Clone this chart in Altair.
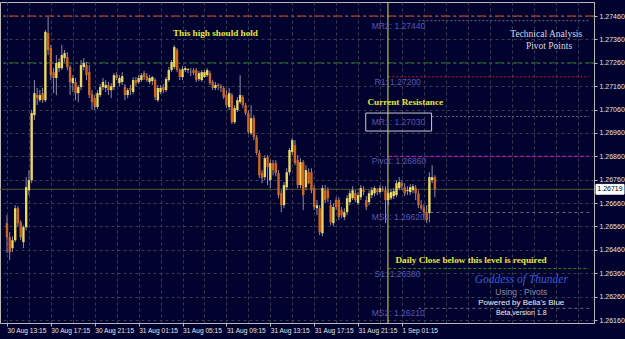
import json
import altair as alt
import pandas as pd

# ---------------- data (EURUSD-like 15 min candles) ----------------
opens = [1.26574, 1.26514, 1.26467, 1.26501, 1.26638, 1.26578, 1.26493, 1.26557, 1.26715, 1.26758,
         1.27036, 1.27122, 1.27100, 1.27130, 1.27100, 1.27387, 1.27323, 1.27220, 1.27195, 1.27237,
         1.27237, 1.27280, 1.27285, 1.27242, 1.27173, 1.27178, 1.27130, 1.27156, 1.27242, 1.27250,
         1.27220, 1.27126, 1.27109, 1.27071, 1.27122, 1.27156, 1.27152, 1.27165, 1.27143, 1.27156,
         1.27207, 1.27173, 1.27178, 1.27156, 1.27122, 1.27152, 1.27135, 1.27186, 1.27178, 1.27186,
         1.27216, 1.27203, 1.27178, 1.27182, 1.27186, 1.27100, 1.27135, 1.27156, 1.27143, 1.27186,
         1.27229, 1.27242, 1.27315, 1.27229, 1.27199, 1.27229, 1.27229, 1.27220, 1.27229, 1.27229,
         1.27190, 1.27186, 1.27199, 1.27207, 1.27216, 1.27178, 1.27152, 1.27165, 1.27160, 1.27152,
         1.27122, 1.27071, 1.27122, 1.27006, 1.27058, 1.27092, 1.27113, 1.27079, 1.27045, 1.26959,
         1.27023, 1.26942, 1.26874, 1.26788, 1.26771, 1.26857, 1.26758, 1.26831, 1.26831, 1.26788,
         1.26702, 1.26651, 1.26728, 1.26792, 1.26878, 1.26908, 1.26844, 1.26737, 1.26835, 1.26728,
         1.26792, 1.26792, 1.26724, 1.26638, 1.26638, 1.26531, 1.26715, 1.26715, 1.26651, 1.26574,
         1.26673, 1.26673, 1.26630, 1.26600, 1.26621, 1.26664, 1.26681, 1.26702, 1.26660, 1.26685,
         1.26715, 1.26673, 1.26664, 1.26694, 1.26702, 1.26715, 1.26707, 1.26720, 1.26715, 1.26673,
         1.26681, 1.26690, 1.26694, 1.26724, 1.26745, 1.26728, 1.26711, 1.26707, 1.26715, 1.26724,
         1.26702, 1.26651, 1.26638, 1.26621, 1.26617, 1.26758, 1.26771]
highs = [1.26608, 1.26536, 1.26518, 1.26651, 1.26647, 1.26587, 1.26565, 1.26771, 1.26801, 1.27058,
         1.27186, 1.27152, 1.27143, 1.27152, 1.27400, 1.27456, 1.27336, 1.27237, 1.27293, 1.27280,
         1.27336, 1.27315, 1.27306, 1.27250, 1.27207, 1.27195, 1.27165, 1.27272, 1.27280, 1.27263,
         1.27250, 1.27143, 1.27122, 1.27143, 1.27169, 1.27195, 1.27186, 1.27178, 1.27173, 1.27216,
         1.27220, 1.27207, 1.27220, 1.27169, 1.27152, 1.27165, 1.27199, 1.27199, 1.27207, 1.27216,
         1.27225, 1.27216, 1.27207, 1.27203, 1.27195, 1.27165, 1.27165, 1.27169, 1.27199, 1.27242,
         1.27272, 1.27336, 1.27323, 1.27237, 1.27246, 1.27246, 1.27237, 1.27237, 1.27237, 1.27237,
         1.27225, 1.27229, 1.27229, 1.27237, 1.27225, 1.27186, 1.27178, 1.27173, 1.27169, 1.27160,
         1.27143, 1.27152, 1.27130, 1.27079, 1.27113, 1.27207, 1.27122, 1.27088, 1.27058, 1.27079,
         1.27036, 1.26951, 1.26887, 1.26801, 1.26865, 1.26865, 1.26844, 1.26844, 1.26844, 1.26801,
         1.26715, 1.26750, 1.26809, 1.26895, 1.26938, 1.26929, 1.26865, 1.26852, 1.26844, 1.26822,
         1.26809, 1.26809, 1.26737, 1.26673, 1.26651, 1.26737, 1.26737, 1.26728, 1.26673, 1.26660,
         1.26685, 1.26685, 1.26643, 1.26638, 1.26694, 1.26715, 1.26732, 1.26715, 1.26707, 1.26737,
         1.26732, 1.26690, 1.26715, 1.26728, 1.26732, 1.26724, 1.26737, 1.26732, 1.26732, 1.26715,
         1.26720, 1.26724, 1.26758, 1.26771, 1.26758, 1.26745, 1.26732, 1.26741, 1.26741, 1.26737,
         1.26715, 1.26673, 1.26655, 1.26651, 1.26792, 1.26822, 1.26779]
lows = [1.26446, 1.26416, 1.26450, 1.26493, 1.26561, 1.26501, 1.26467, 1.26544, 1.26694, 1.26745,
        1.27015, 1.27079, 1.27092, 1.27088, 1.27092, 1.27293, 1.27186, 1.27130, 1.27122, 1.27220,
        1.27229, 1.27263, 1.27229, 1.27122, 1.27135, 1.27100, 1.27092, 1.27143, 1.27229, 1.27186,
        1.27109, 1.27058, 1.27058, 1.27062, 1.27113, 1.27143, 1.27135, 1.27122, 1.27109, 1.27143,
        1.27186, 1.27160, 1.27165, 1.27100, 1.27109, 1.27122, 1.27126, 1.27160, 1.27169, 1.27178,
        1.27186, 1.27178, 1.27169, 1.27165, 1.27100, 1.27092, 1.27126, 1.27130, 1.27135, 1.27178,
        1.27220, 1.27233, 1.27220, 1.27186, 1.27186, 1.27220, 1.27216, 1.27203, 1.27207, 1.27178,
        1.27182, 1.27178, 1.27195, 1.27199, 1.27165, 1.27143, 1.27143, 1.27143, 1.27135, 1.27105,
        1.27066, 1.27058, 1.26998, 1.26998, 1.27049, 1.27083, 1.27066, 1.27036, 1.26955, 1.26951,
        1.26929, 1.26865, 1.26767, 1.26745, 1.26758, 1.26737, 1.26724, 1.26779, 1.26775, 1.26681,
        1.26621, 1.26638, 1.26715, 1.26779, 1.26865, 1.26822, 1.26724, 1.26724, 1.26630, 1.26715,
        1.26741, 1.26702, 1.26630, 1.26608, 1.26523, 1.26518, 1.26660, 1.26664, 1.26565, 1.26561,
        1.26630, 1.26587, 1.26595, 1.26587, 1.26608, 1.26651, 1.26673, 1.26664, 1.26651, 1.26673,
        1.26694, 1.26630, 1.26651, 1.26681, 1.26690, 1.26694, 1.26698, 1.26707, 1.26574, 1.26651,
        1.26673, 1.26677, 1.26685, 1.26715, 1.26715, 1.26690, 1.26694, 1.26694, 1.26702, 1.26673,
        1.26638, 1.26630, 1.26595, 1.26574, 1.26578, 1.26745, 1.26685]
closes = [1.26514, 1.26450, 1.26501, 1.26638, 1.26574, 1.26514, 1.26557, 1.26728, 1.26758, 1.27045,
          1.27130, 1.27109, 1.27122, 1.27100, 1.27392, 1.27315, 1.27207, 1.27195, 1.27259, 1.27263,
          1.27293, 1.27302, 1.27242, 1.27178, 1.27195, 1.27130, 1.27156, 1.27250, 1.27259, 1.27207,
          1.27122, 1.27092, 1.27071, 1.27130, 1.27156, 1.27178, 1.27165, 1.27143, 1.27160, 1.27207,
          1.27195, 1.27195, 1.27203, 1.27122, 1.27143, 1.27143, 1.27186, 1.27173, 1.27195, 1.27207,
          1.27199, 1.27186, 1.27195, 1.27199, 1.27113, 1.27152, 1.27152, 1.27143, 1.27190, 1.27229,
          1.27263, 1.27327, 1.27229, 1.27199, 1.27233, 1.27237, 1.27233, 1.27221, 1.27216, 1.27186,
          1.27216, 1.27220, 1.27220, 1.27229, 1.27173, 1.27152, 1.27165, 1.27160, 1.27152, 1.27113,
          1.27079, 1.27130, 1.27006, 1.27066, 1.27100, 1.27122, 1.27079, 1.27045, 1.26964, 1.27023,
          1.26942, 1.26874, 1.26779, 1.26767, 1.26852, 1.26814, 1.26831, 1.26801, 1.26788, 1.26694,
          1.26651, 1.26737, 1.26792, 1.26887, 1.26929, 1.26831, 1.26737, 1.26835, 1.26694, 1.26801,
          1.26745, 1.26715, 1.26643, 1.26651, 1.26536, 1.26724, 1.26673, 1.26681, 1.26578, 1.26643,
          1.26643, 1.26600, 1.26608, 1.26621, 1.26681, 1.26702, 1.26715, 1.26673, 1.26694, 1.26724,
          1.26707, 1.26643, 1.26702, 1.26715, 1.26724, 1.26707, 1.26724, 1.26715, 1.26673, 1.26702,
          1.26707, 1.26711, 1.26745, 1.26750, 1.26732, 1.26702, 1.26715, 1.26728, 1.26732, 1.26702,
          1.26651, 1.26638, 1.26621, 1.26587, 1.26771, 1.26771, 1.26719]

# x-axis labels (one every 4 hours = 16 bars), gridlines every 2 hours
tick_labels = ["30 Aug 13:15", "30 Aug 17:15", "30 Aug 21:15", "31 Aug 01:15", "31 Aug 05:15",
               "31 Aug 09:15", "31 Aug 13:15", "31 Aug 17:15", "31 Aug 21:15", "1 Sep 01:15"]
price_ticks = [1.27460, 1.27360, 1.27260, 1.27160, 1.27060, 1.26960, 1.26860,
               1.26760, 1.26660, 1.26560, 1.26460, 1.26360, 1.26260, 1.26160]

# pivot levels
level_names = ["MR2", "R1", "MR1", "Pivot", "MS1", "S1", "MS2"]
level_values = [1.27440, 1.27200, 1.27030, 1.26860, 1.26620, 1.26380, 1.26210]
level_start = [150, 139, 155, 139, 150, 139, 150]
level_label_x = [133, 134, 133, 133, 133, 134, 133]
level_colors = ["#6c6c84", "#c41c1c", "#6c6c84", "#c020c0", "#6c6c84", "#1c8a1c", "#6c6c84"]
level_dashes = [[2, 2], [2, 2], [2, 2], [4, 2], [3, 3], [3, 2], [3, 3]]

full_values = [1.27460, 1.27260]
full_colors = ["#e2441a", "#1c6e1c"]
full_dashes = [[9, 3, 3, 3], [9, 3, 3, 3]]

day_separator = [138.89]
current_price = 1.26719
resistance_box = {"i0": 130.8, "i1": 154.8, "top": 1.27045, "bottom": 1.26968}

X_DOMAIN = [-0.72, 212.19]
Y_DOMAIN = [1.261472, 1.275199]

BG = "#02022e"
GRID = "#3a3a52"
AXIS_TXT = "#e4e4e4"
FRAME = "#b8b8b8"
BULL = "#e8d860"
BEAR = "#d0661e"
WICK = "#8c8ca8"
YELLOW = "#e6e632"
LVL_TXT = "#5858b4"

# ---------------- encodings ----------------
grid_idx = list(range(0, 209, 8))
label_expr = ("(datum.value % 16 == 0 && datum.value / 16 < " + str(len(tick_labels)) + ") ? "
              + json.dumps(tick_labels) + "[datum.value / 16] : ''")

x_axis = alt.Axis(
    values=grid_idx, labelExpr=label_expr, grid=True, gridColor=GRID, gridDash=[3, 3],
    domainColor=FRAME, domainWidth=1,
    tickColor={"condition": {"test": "datum.value % 16 == 0 && datum.value <= 144", "value": FRAME},
               "value": "transparent"},
    tickSize=3, labelColor=AXIS_TXT, labelFont="Liberation Sans", labelFontSize=6.6,
    labelAlign="left", labelBaseline="top", labelPadding=1,
    labelOverlap=False, labelFlush=False, title=None)

y_axis = alt.Axis(
    orient="right", values=price_ticks, format=".5f", grid=True, gridColor=GRID, gridDash=[3, 3],
    domainColor=FRAME, domainWidth=1, tickColor=FRAME, tickSize=3,
    labelColor=AXIS_TXT, labelFont="Liberation Sans", labelFontSize=7, labelPadding=2,
    labelBaseline="middle", labelOverlap=False, labelFlush=False, title=None)


def X(field):
    return alt.X(field, type="quantitative", scale=alt.Scale(domain=X_DOMAIN, nice=False, zero=False),
                 axis=x_axis, title=None)


def Y(field):
    return alt.Y(field, type="quantitative", scale=alt.Scale(domain=Y_DOMAIN, nice=False, zero=False),
                 axis=y_axis, title=None)


n = len(closes)
candles = pd.DataFrame({"i": list(range(n)), "o": opens, "h": highs, "l": lows, "c": closes})
candles["dir"] = ["bull" if c >= o else "bear" for o, c in zip(opens, closes)]

layers = []

# full width level lines
for v, col, dash in zip(full_values, full_colors, full_dashes):
    layers.append(alt.Chart(pd.DataFrame({"v": [v]})).mark_rule(color=col, strokeWidth=1, strokeDash=dash)
                  .encode(y=Y("v")))

# current price line
layers.append(alt.Chart(pd.DataFrame({"v": [current_price]}))
              .mark_rule(color="#54542e", strokeWidth=1).encode(y=Y("v")))

# pivot level lines
for name, v, s, col, dash in zip(level_names, level_values, level_start, level_colors, level_dashes):
    d = pd.DataFrame({"v": [v], "s": [s], "e": [X_DOMAIN[1]]})
    layers.append(alt.Chart(d).mark_rule(color=col, strokeWidth=1, strokeDash=dash)
                  .encode(x=X("s"), x2=alt.X2("e"), y=Y("v")))

# candles
bull = candles[candles["dir"] == "bull"]
bear = candles[candles["dir"] == "bear"]
layers.append(alt.Chart(candles).mark_rule(color=WICK, strokeWidth=1)
              .encode(x=X("i"), y=Y("l"), y2=alt.Y2("h")))
layers.append(alt.Chart(bull).mark_bar(size=2.4, color=BULL)
              .encode(x=X("i"), y=Y("o"), y2=alt.Y2("c")))
layers.append(alt.Chart(bear).mark_bar(size=2.4, color=BEAR)
              .encode(x=X("i"), y=Y("o"), y2=alt.Y2("c")))

# day separator
layers.append(alt.Chart(pd.DataFrame({"i": day_separator}))
              .mark_rule(color="#e2e23c", strokeWidth=1).encode(x=X("i")))

# pivot labels
lab = pd.DataFrame({
    "i": level_label_x, "v": level_values,
    "t": [f"{nm}: {v:.5f}" for nm, v in zip(level_names, level_values)],
})
layers.append(alt.Chart(lab).mark_text(align="left", baseline="middle", dy=5, color=LVL_TXT,
                                       font="Liberation Sans", fontSize=8.5)
              .encode(x=X("i"), y=Y("v"), text="t:N"))

# resistance box
rb = pd.DataFrame({k: [v] for k, v in resistance_box.items()})
layers.append(alt.Chart(rb).mark_rect(fill=None, stroke="#c8c8d8", strokeWidth=1)
              .encode(x=X("i0"), x2=alt.X2("i1"), y=Y("top"), y2=alt.Y2("bottom")))

# annotation texts
notes = [
    ("This high should hold", 76.0, 1.27387, YELLOW, "Liberation Serif", 9.2, "bold", "normal"),
    ("Current Resistance", 145.2, 1.27092, YELLOW, "Liberation Serif", 9.2, "bold", "normal"),
    ("Daily Close below this level is required", 169.2, 1.26416, YELLOW, "Liberation Serif", 9.2, "bold", "normal"),
    ("Technical Analysis", 196.6, 1.27385, "#d8d8e2", "Liberation Serif", 9.5, "normal", "normal"),
    ("Pivot Points", 197.6, 1.27332, "#d8d8e2", "Liberation Serif", 9.5, "normal", "normal"),
    ("Goddess of Thunder", 187.5, 1.26330, "#3a5ad2", "Liberation Serif", 11.5, "normal", "italic"),
    ("Using : Pivots", 187.5, 1.26279, "#8a8aa0", "Liberation Sans", 8.5, "normal", "normal"),
    ("Powered by Bella's Blue", 187.5, 1.26232, "#f0f0f0", "Liberation Sans", 8, "normal", "normal"),
    ("Beta,version 1.8", 187.5, 1.26189, "#f0f0f0", "Liberation Sans", 7, "normal", "normal"),
]
for txt, i, p, col, font, size, weight, style in notes:
    d = pd.DataFrame({"i": [i], "p": [p], "t": [txt]})
    layers.append(alt.Chart(d).mark_text(align="center", baseline="middle", color=col, font=font,
                                         fontSize=size, fontWeight=weight, fontStyle=style)
                  .encode(x=X("i"), y=Y("p"), text="t:N"))

# current price tag on the right axis
tag = pd.DataFrame({"p": [current_price], "top": [current_price + 0.00021],
                    "bot": [current_price - 0.00021], "t": [f"{current_price:.5f}"]})
layers.append(alt.Chart(tag).mark_rect(fill="#ffffff", stroke="#ffffff")
              .encode(x=alt.value(596), x2=alt.value(624), y=Y("top"), y2=alt.Y2("bot")))
layers.append(alt.Chart(tag).mark_text(align="center", baseline="middle", color="#000000",
                                       font="Liberation Sans", fontSize=7)
              .encode(x=alt.value(610), y=Y("p"), text="t:N"))

chart = alt.layer(*layers).properties(
    width=594, height=321, autosize="none",
    padding={"left": 0, "top": 2, "right": 31, "bottom": 16},
    background=BG,
).configure_view(stroke=FRAME, strokeWidth=1)

chart.save("out.html", embed_options={"renderer": "svg", "actions": False})
